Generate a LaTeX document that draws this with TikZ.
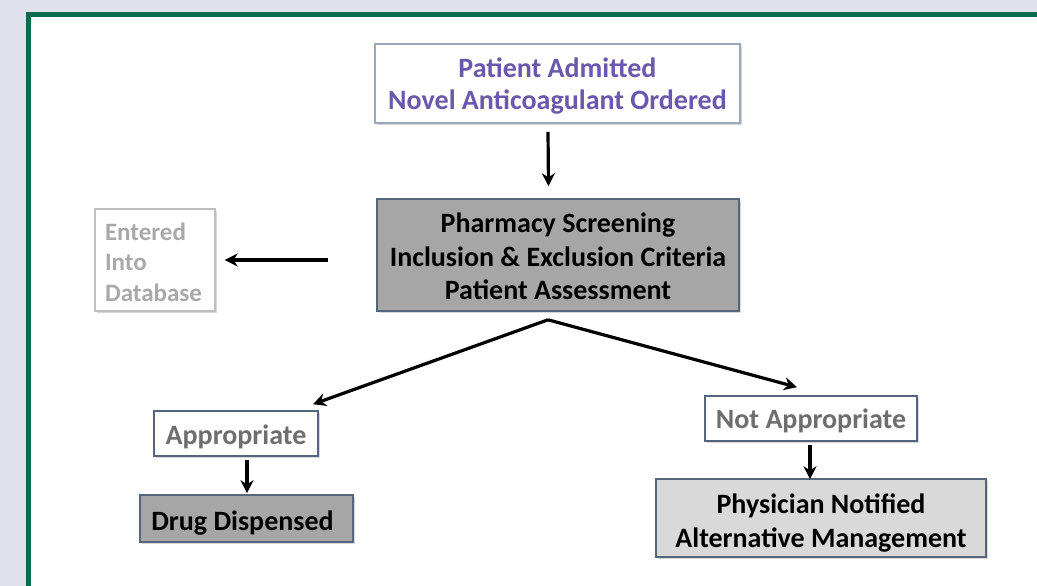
\documentclass[tikz,border=0pt]{standalone}
\usepackage{fontspec}
\setmainfont{Carlito}
\usetikzlibrary{arrows.meta,calc,shadows}
\definecolor{bgl}{HTML}{E1E1EE}
\definecolor{pgreen}{HTML}{0B6B4E}
\definecolor{purp}{HTML}{6A58AC}
\definecolor{bord}{HTML}{56657E}
\definecolor{lbord}{HTML}{9AA8BC}
\definecolor{gfill}{HTML}{A6A6A6}
\definecolor{lfill}{HTML}{D9D9D9}
\definecolor{gtext}{HTML}{6E6E6E}
\definecolor{ltext}{HTML}{A9A9A9}
\newcommand\lowc[2]{\raisebox{-#1}[\height][\depth]{\begin{tabular}{@{}c@{}}#2\end{tabular}}}
\newcommand\lowl[2]{\raisebox{-#1}[\height][\depth]{\begin{tabular}{@{}l@{}}#2\end{tabular}}}
\tikzset{
  box/.style={draw=bord, line width=1.6pt, inner sep=0pt, align=center,
    font=\fontsize{28}{33.5}\selectfont\bfseries,
    drop shadow={shadow xshift=2pt, shadow yshift=-2pt, fill=black!25, opacity=0.6}},
  arr/.style={-{Stealth[length=13pt,width=13pt]}, line width=3.2pt, black},
}
\begin{document}
\begin{tikzpicture}[x=1pt,y=-1pt]
\useasboundingbox (0,0) rectangle (1037,586);
\fill[bgl] (0,0) rectangle (1037,586);
\fill[white] (28.5,14.5) rectangle (1045,600);
\draw[pgreen, line width=5.5pt] (28.5,600) -- (28.5,14.5) -- (1045,14.5);

\node[box, draw=lbord, fill=white, text=purp, minimum width=365pt, minimum height=79pt,
  font=\fontsize{28}{32}\selectfont\bfseries] (top) at (557.5,83.5)
  {\lowc{4pt}{Patient Admitted\\Novel Anticoagulant Ordered}};
\node[box, fill=gfill, minimum width=362pt, minimum height=112pt] (pharm) at (558,255)
  {\lowc{4.5pt}{Pharmacy Screening\\Inclusion \& Exclusion Criteria\\Patient Assessment}};
\node[box, draw=black!25, line width=1.4pt, fill=white, text=ltext, drop shadow={opacity=0}, align=left,
  minimum width=120pt, minimum height=102pt, font=\fontsize{25}{30.5}\selectfont\bfseries] (entered) at (155,260)
  {\lowl{4.5pt}{\makebox[100pt][l]{Entered}\\Into\\Database}};
\node[box, fill=white, text=gtext, minimum width=164pt, minimum height=45pt] (appr) at (236,433.5) {\lowc{4pt}{Appropriate}};
\node[box, fill=gfill, minimum width=213pt, minimum height=47pt] (drug) at (246.5,518.5) {\lowc{5pt}{\hspace*{-8pt}Drug Dispensed}};
\node[box, fill=white, text=gtext, minimum width=212pt, minimum height=45pt] (notappr) at (811,418.5) {\lowc{3pt}{Not Appropriate}};
\node[box, fill=lfill, minimum width=330pt, minimum height=78pt, font=\fontsize{28}{34}\selectfont\bfseries] (phys) at (821,518)
  {\lowc{6pt}{Physician Notified\\Alternative Management}};

\draw[arr] ($(top.south)+(-9.5,8)$) -- ($(pharm.north)+(-9.5,-12)$);
\draw[arr] ($(pharm.west)+(-48,5)$) -- ($(entered.east)+(9,0)$);
\draw[arr] ($(pharm.south)+(-10,8)$) -- ($(appr.north)+(77,-6)$);
\draw[arr] ($(pharm.south)+(-10,8)$) -- ($(notappr.north)+(-14,-8)$);
\draw[arr] ($(appr.south)+(11,3)$) -- ($(drug.north)+(0.5,-1)$);
\draw[arr] ($(notappr.south)+(-1,3)$) -- ($(phys.north)+(-11,1)$);
\end{tikzpicture}
\end{document}
